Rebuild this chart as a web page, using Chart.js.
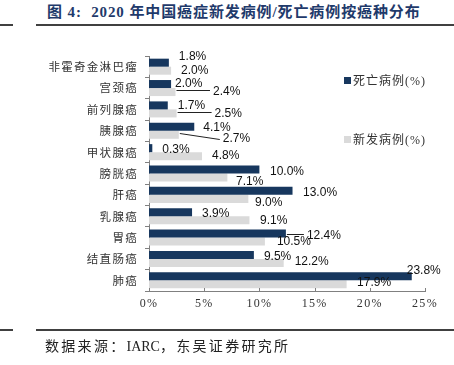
<!DOCTYPE html>
<html>
<head>
<meta charset="utf-8">
<script src="https://cdn.jsdelivr.net/npm/chart.js@4/dist/chart.umd.min.js"></script>
<style>
body { margin: 0; width: 454px; height: 365px; position: relative; background: #fff; overflow: hidden; }
#c { position: absolute; left: 0; top: 0; }
.hl { position: absolute; height: 2px; background: #404040; }
#title { position: absolute; left: 47px; top: 0px; font: bold 15px "Liberation Serif", "Noto Sans CJK SC"; letter-spacing: 0.9px; color: #1F3A6B; white-space: nowrap; }
#src { position: absolute; left: 45px; top: 335px; font: 14px "Liberation Serif", "Noto Sans CJK SC"; letter-spacing: 2.3px; color: #222; white-space: nowrap; }
#src span { letter-spacing: 0; }
.lg { position: absolute; left: 344px; font: 12px "Liberation Serif", "Noto Sans CJK SC"; letter-spacing: 1px; color: #333; white-space: nowrap; line-height: 14px; }
.sw { display: inline-block; width: 7px; height: 7px; margin-right: 2px; vertical-align: 1px; }
</style>
</head>
<body>
<div id="title">图 4:&nbsp; 2020 年中国癌症新发病例/死亡病例按癌种分布</div>
<div class="hl" style="left:0;width:13px;top:24px"></div>
<div class="hl" style="left:36px;width:418px;top:24px"></div>
<canvas id="c" width="454" height="365"></canvas>
<div id="legend"></div>
<div class="hl" style="left:0;width:13px;top:329px"></div>
<div class="hl" style="left:36px;width:418px;top:329px"></div>
<div id="src">数据来源：<span>IARC</span>，东吴证券研究所</div>
<script>
// data
const cancers = ['非霍奇金淋巴瘤', '宫颈癌', '前列腺癌', '胰腺癌', '甲状腺癌', '膀胱癌', '肝癌', '乳腺癌', '胃癌', '结直肠癌', '肺癌'];
const deathPct = [1.8, 2.0, 1.7, 4.1, 0.3, 10.0, 13.0, 3.9, 12.4, 9.5, 23.8];
const newPct = [2.0, 2.4, 2.5, 2.7, 4.8, 7.1, 9.0, 9.1, 10.5, 12.2, 17.9];
const seriesNames = ['死亡病例(%)', '新发病例(%)'];
const xTicks = [0, 5, 10, 15, 20, 25];

const colours = ['#17375E', '#DADADA'];

// where each value label sits, [dx from bar end, dy from bar middle]
const labelNudge = [
  [[10, -6], [4, 0], [10, 0.6], [9, 0.7], [10, 1.4], [10.6, 2], [10.5, 1.6], [10, 1.8], [21, 2], [10, 2], [-5, -6]],
  [[10, 0], [37.5, 0], [38, 0], [44, 3.7], [10, 0], [8.6, 4], [6.6, 3.6], [10.5, 0], [12, 0], [11, -1], [10.5, -1.3]]
];
// leader lines: index -> [start dy, end dy]
const leaders = [
  { 8: [0.5, 0.5] },
  { 1: [-2, -2], 2: [-1.5, -1.5], 3: [-2, 4] }
];

// legend as html
const legendTops = [74, 133];
const lg = document.getElementById('legend');
seriesNames.forEach((s, i) => {
  const d = document.createElement('div');
  d.className = 'lg';
  d.style.top = legendTops[i] + 'px';
  d.innerHTML = '<span class="sw" style="background:' + colours[i] + '"></span>' + s;
  lg.appendChild(d);
});

// spaced out axis text, like the original
const spacing = {
  id: 'spacing',
  beforeDraw(chart) { chart.ctx.letterSpacing = '1.3px'; },
  beforeDatasetsDraw(chart) { chart.ctx.letterSpacing = '0px'; }
};

const valueLabels = {
  id: 'valueLabels',
  afterDatasetsDraw(chart) {
    const ctx = chart.ctx;
    ctx.save();
    ctx.letterSpacing = '0px';
    ctx.font = '12px "Liberation Sans", Arial';
    ctx.fillStyle = '#111';
    ctx.textAlign = 'left';
    ctx.textBaseline = 'middle';
    ctx.strokeStyle = '#222';
    ctx.lineWidth = 1;
    chart.data.datasets.forEach((ds, di) => {
      const meta = chart.getDatasetMeta(di);
      meta.data.forEach((bar, i) => {
        const n = labelNudge[di][i];
        const lx = bar.x + n[0];
        const ly = bar.y + n[1];
        const ld = leaders[di][i];
        if (ld) {
          ctx.beginPath();
          ctx.moveTo(bar.x + 1, Math.round(bar.y + ld[0]) + 0.5);
          ctx.lineTo(lx - 3, Math.round(bar.y + ld[1]) + 0.5);
          ctx.stroke();
        }
        ctx.fillText(ds.data[i].toFixed(1) + '%', lx, ly);
      });
    });
    // small inside ticks on the x axis
    const xs = chart.scales.x;
    ctx.strokeStyle = '#808080';
    xTicks.forEach(v => {
      const px = Math.round(xs.getPixelForValue(v)) + 0.5;
      ctx.beginPath();
      ctx.moveTo(px, xs.top);
      ctx.lineTo(px, xs.top - 3);
      ctx.stroke();
    });
    ctx.restore();
  }
};

new Chart(document.getElementById('c'), {
  type: 'bar',
  data: {
    labels: cancers,
    datasets: [
      { label: seriesNames[0], data: deathPct, backgroundColor: colours[0] },
      { label: seriesNames[1], data: newPct, backgroundColor: colours[1] }
    ]
  },
  options: {
    indexAxis: 'y',
    responsive: false,
    animation: false,
    layout: { padding: { top: 56, right: 29, left: 0, bottom: 0 } },
    datasets: { bar: { categoryPercentage: 0.75, barPercentage: 1.0 } },
    plugins: { legend: { display: false }, tooltip: { enabled: false } },
    scales: {
      x: {
        min: 0, max: 25,
        afterFit: s => { s.height = 74; },
        grid: { display: false, drawTicks: false, tickLength: 0 },
        border: { display: true, color: '#808080' },
        ticks: {
          stepSize: 5, padding: 6, color: '#333',
          font: { family: '"Liberation Serif"', size: 12 },
          callback: v => v + '%'
        }
      },
      y: {
        afterFit: s => { s.width = 149; },
        grid: { drawOnChartArea: false, drawTicks: true, tickLength: 4, color: '#808080' },
        border: { display: true, color: '#808080' },
        ticks: {
          padding: 7, color: '#333',
          font: { family: '"Noto Sans CJK SC"', size: 11.5 }
        }
      }
    }
  },
  plugins: [spacing, valueLabels]
});
</script>
</body>
</html>
